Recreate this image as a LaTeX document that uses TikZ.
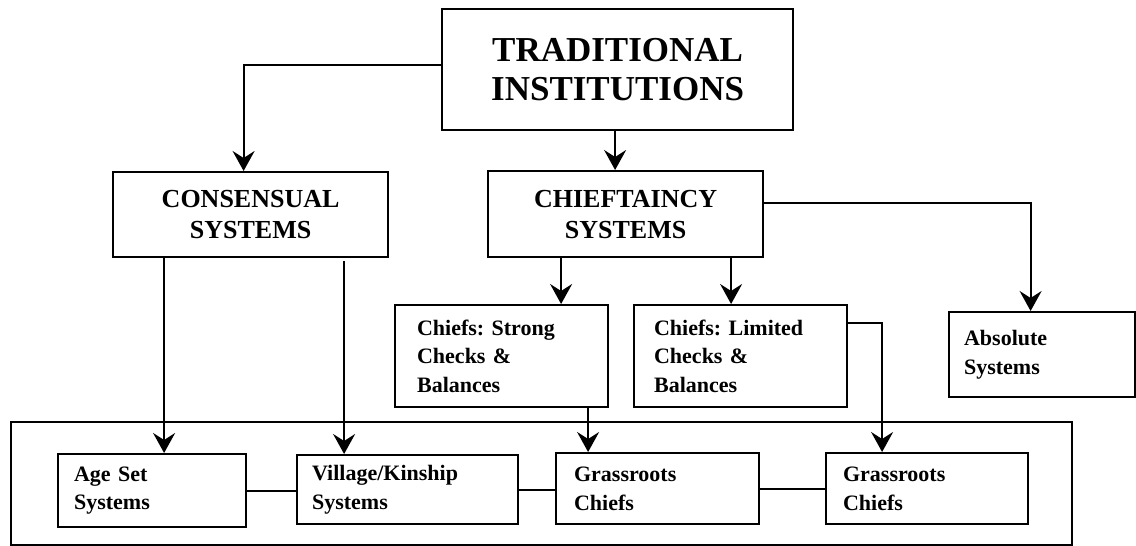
\documentclass[tikz,border=0pt]{standalone}
\usepackage{fontspec}
\setmainfont{Liberation Serif}
\usetikzlibrary{arrows.meta,calc}
\begin{document}
\frenchspacing
\begin{tikzpicture}[x=1pt,y=-1pt,
  box/.style={draw, line width=2.2pt, anchor=north west, inner ysep=0pt},
  big/.style={box, align=center, inner xsep=0pt, font=\bfseries\fontsize{35}{39}\selectfont},
  mid/.style={box, align=center, inner xsep=0pt, font=\bfseries\fontsize{26}{31}\selectfont},
  sm/.style={box, align=left, font=\frenchspacing\bfseries\fontsize{22}{28.5}\selectfont},
  arr/.style={line width=2pt, -{Stealth[length=20pt,width=22pt,inset=7pt]}},
  ln/.style={line width=2pt},
]
\useasboundingbox (0,0) rectangle (1136,546);
% group frame
\node[box, inner sep=0pt, minimum width=1061pt, minimum height=123pt] (grp) at (10,421) {};
% main boxes
\node[big, minimum width=351pt, minimum height=121pt] (top) at (441,8) {TRADITIONAL\\INSTITUTIONS};
\node[mid, minimum width=275pt, minimum height=85pt] (cons) at (112,171) {CONSENSUAL\\SYSTEMS};
\node[mid, minimum width=275pt, minimum height=86pt] (chief) at (487,170) {CHIEFTAINCY\\SYSTEMS};
% middle row
\node[sm, text width=169pt, inner xsep=22pt, minimum height=102pt] (strong) at (394,304) {Chiefs: Strong\\Checks \&\\Balances};
\node[sm, text width=173pt, inner xsep=20pt, minimum height=102pt] (limited) at (633,304) {Chiefs: Limited\\Checks \&\\Balances};
\node[sm, text width=156pt, inner xsep=15pt, minimum height=85pt] (abs) at (948,311) {Absolute\\Systems};
% bottom row
\node[sm, text width=156pt, inner xsep=16pt, minimum height=73pt] (age) at (57,453) {Age Set\\Systems};
\node[sm, text width=191pt, inner xsep=15pt, minimum height=69pt] (vil) at (296,454) {Village/Kinship\\Systems};
\node[sm, text width=167pt, inner xsep=18pt, minimum height=71pt] (g1) at (555,452) {Grassroots\\Chiefs};
\node[sm, text width=168pt, inner xsep=17pt, minimum height=71pt] (g2) at (825,452) {Grassroots\\Chiefs};
% helper coordinates
\coordinate (cn) at ([xshift=-7pt]cons.north);
\coordinate (sa) at ([xshift=59.5pt]strong.north);
\coordinate (la) at ([xshift=-9.5pt]limited.north);
\coordinate (an) at ([xshift=-11.5pt]abs.north);
\coordinate (aa) at ([xshift=12pt]age.north);
\coordinate (va) at ([xshift=-63.5pt]vil.north);
\coordinate (g1a) at ([xshift=-69.5pt]g1.north);
\coordinate (g2a) at ([xshift=-45pt]g2.north);
% connectors
\draw[arr] ([yshift=4.5pt]top.west) -| (cn);
\draw[arr] ([xshift=-2.5pt]top.south) -- ([xshift=-2.5pt]top.south |- chief.north);
\draw[arr] ([yshift=11pt]chief.east) -| (an);
\draw[arr] (chief.south -| sa) -- (sa);
\draw[arr] (chief.south -| la) -- (la);
\draw[arr] (cons.south -| aa) -- (aa);
\draw[arr] ([yshift=-3pt]cons.south -| va) -- (va);
\draw[arr] (strong.south -| g1a) -- (g1a);
\draw[arr] ([yshift=33pt]limited.east) -| (g2a);
\draw[ln] (age.east) -- (age.east -| vil.west);
\draw[ln] (vil.east) -- (vil.east -| g1.west);
\draw[ln] (g1.east) -- (g1.east -| g2.west);
\end{tikzpicture}
\end{document}
